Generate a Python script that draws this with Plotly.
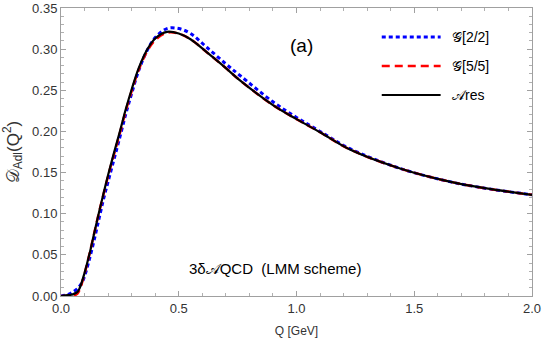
import plotly.graph_objects as go

# Q [GeV] sample points
q_ares = [0.0, 0.03, 0.05, 0.07, 0.08, 0.10, 0.12, 0.14, 0.16, 0.18, 0.20, 0.225, 0.25, 0.275,
          0.30, 0.33, 0.365, 0.40, 0.45, 0.50, 0.55, 0.62, 0.70, 0.76, 0.90, 1.0, 1.1, 1.227,
          1.44, 1.65, 1.8, 2.0]
d_ares = [0.0, 0.001, 0.002, 0.005, 0.01, 0.028, 0.05, 0.075, 0.10, 0.124, 0.147, 0.174, 0.20,
          0.227, 0.251, 0.277, 0.299, 0.313, 0.321, 0.319, 0.312, 0.296, 0.277, 0.262, 0.232,
          0.215, 0.199, 0.178, 0.155, 0.139, 0.131, 0.123]

q_g22 = [0.0, 0.03, 0.05, 0.07, 0.09, 0.10, 0.12, 0.14, 0.16, 0.18, 0.20, 0.225, 0.25, 0.275,
         0.30, 0.33, 0.365, 0.40, 0.45, 0.50, 0.55, 0.62, 0.70, 0.76, 0.90, 1.0, 1.1, 1.227,
         1.44, 1.65, 1.8, 2.0]
d_g22 = [0.0, 0.002, 0.005, 0.009, 0.017, 0.024, 0.044, 0.067, 0.092, 0.117, 0.139, 0.166,
         0.193, 0.221, 0.246, 0.274, 0.298, 0.314, 0.325, 0.325, 0.319, 0.302, 0.282, 0.268,
         0.236, 0.217, 0.200, 0.179, 0.155, 0.139, 0.131, 0.123]

q_g55 = [0.0, 0.03, 0.05, 0.07, 0.08, 0.10, 0.12, 0.14, 0.16, 0.18, 0.20, 0.225, 0.25, 0.275,
         0.30, 0.33, 0.365, 0.40, 0.45, 0.50, 0.55, 0.62, 0.70, 0.76, 0.90, 1.0, 1.1, 1.227,
         1.44, 1.65, 1.8, 2.0]
d_g55 = [0.0, 0.0, 0.0, 0.003, 0.008, 0.027, 0.05, 0.075, 0.10, 0.123, 0.146, 0.172, 0.198,
         0.225, 0.249, 0.275, 0.297, 0.311, 0.320, 0.319, 0.312, 0.296, 0.277, 0.262, 0.232,
         0.215, 0.199, 0.178, 0.155, 0.139, 0.131, 0.123]

names = ["\U0001D4A2[2/2]", "\U0001D4A2[5/5]", "\U0001D49Cres"]
colors = ["#0000FF", "#FF0000", "#000000"]
widths = [3, 2.5, 2.2]
dashes = ["4px,3px", "8px,5px", "solid"]
series_x = [q_g22, q_g55, q_ares]
series_y = [d_g22, d_g55, d_ares]

FONT = "Liberation Sans, Arial, sans-serif"

fig = go.Figure()
for xs, ys, nm, c, w, d in zip(series_x, series_y, names, colors, widths, dashes):
    fig.add_trace(go.Scatter(x=xs, y=ys, mode="lines", name=nm, line_shape="spline",
                             showlegend=False, line=dict(color=c, width=w, dash=d)))

axis_common = dict(showline=True, linecolor="#A0A0A0", linewidth=1, mirror="ticks",
                   ticks="inside", tickcolor="#A0A0A0", ticklen=5, showgrid=False,
                   zeroline=False, automargin=False,
                   tickfont=dict(family=FONT, size=13, color="#333333"))

fig.update_xaxes(range=[0, 2.0], tickvals=[0, 0.5, 1.0, 1.5, 2.0],
                 ticktext=["0.0", "0.5", "1.0", "1.5", "2.0"],
                 minor=dict(dtick=0.1, ticks="inside", ticklen=3, tickcolor="#B0B0B0"),
                 title=dict(text="Q [GeV]", font=dict(family=FONT, size=12, color="#333333"),
                            standoff=12),
                 **axis_common)
fig.update_yaxes(range=[0, 0.35], dtick=0.05, tickformat=".2f",
                 minor=dict(dtick=0.01, ticks="inside", ticklen=3, tickcolor="#B0B0B0"),
                 title=dict(text="\U0001D49F<sub>Adl</sub>(Q<sup>2</sup>)",
                            font=dict(family=FONT, size=17, color="#333333"), standoff=8),
                 **axis_common)

# manual legend (line samples + labels), positioned in paper coordinates
shapes = []
annotations = []
leg_y = [0.899, 0.799, 0.698]
for nm, c, w, d, ly in zip(names, colors, widths, dashes, leg_y):
    shapes.append(dict(type="line", xref="paper", yref="paper", x0=0.681, x1=0.806,
                       y0=ly, y1=ly, line=dict(color=c, width=w, dash=d)))
    annotations.append(dict(x=0.825, y=ly, xref="paper", yref="paper", text=nm,
                            showarrow=False, xanchor="left", yanchor="middle",
                            font=dict(family=FONT, size=14, color="#000000")))

annotations += [
    dict(x=0.51, y=0.871, xref="paper", yref="paper", text="(a)", showarrow=False,
         xanchor="center", yanchor="middle",
         font=dict(family=FONT, size=19, color="#000000")),
    dict(x=0.454, y=0.097, xref="paper", yref="paper",
         text="3\u03B4\U0001D49CQCD  (LMM scheme)", showarrow=False,
         xanchor="center", yanchor="middle",
         font=dict(family=FONT, size=15, color="#000000")),
]

fig.update_layout(
    width=542, height=342,
    margin=dict(l=61, r=10, t=8, b=46),
    paper_bgcolor="white", plot_bgcolor="white",
    showlegend=False,
    shapes=shapes,
    annotations=annotations,
)

fig.write_html("out.html")
